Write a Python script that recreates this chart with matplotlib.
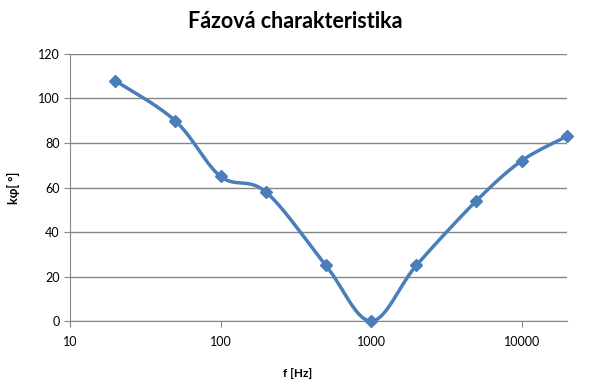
import numpy as np
import matplotlib.pyplot as plt

plt.rcParams['font.family'] = ['Lato', 'DejaVu Sans']

freq = [20, 50, 100, 200, 500, 1000, 2000, 5000, 10000, 20000]
phase = [108, 90, 65, 58, 25, 0, 25, 54, 72, 83]

fig = plt.figure(figsize=(5.94, 3.87), dpi=100)
ax = fig.add_axes([0.1178, 0.1705, 0.8367, 0.69])
ax.set_xscale('log')
ax.set_xlim(10, 20000)
ax.set_ylim(0, 120)

# Excel-like smoothed line: bezier segments in display space (log x, y)
lx = np.log10(freq)
sx = lx * 150.0
sy = np.array(phase) * 2.225
n = len(freq)
cx, cy = [], []
t = np.linspace(0, 1, 40)
for i in range(n - 1):
    p0 = max(i - 1, 0)
    p3 = min(i + 2, n - 1)
    c1x = sx[i] + (sx[i + 1] - sx[p0]) / 6
    c1y = sy[i] + (sy[i + 1] - sy[p0]) / 6
    c2x = sx[i + 1] - (sx[p3] - sx[i]) / 6
    c2y = sy[i + 1] - (sy[p3] - sy[i]) / 6
    bx = (1-t)**3*sx[i] + 3*(1-t)**2*t*c1x + 3*(1-t)*t**2*c2x + t**3*sx[i+1]
    by = (1-t)**3*sy[i] + 3*(1-t)**2*t*c1y + 3*(1-t)*t**2*c2y + t**3*sy[i+1]
    cx.extend(bx)
    cy.extend(by)
cx = 10 ** (np.array(cx) / 150.0)
cy = np.array(cy) / 2.225

ax.plot(cx, cy, color='#4A7EBB', lw=2.5, solid_capstyle='round', zorder=3)
ax.plot(freq, phase, 'D', color='#4A7EBB', ms=6.5, zorder=4, clip_on=False)

ax.set_yticks(range(0, 121, 20))
ax.set_xticks([10, 100, 1000, 10000])
ax.set_xticklabels(['10', '100', '1000', '10000'])
ax.minorticks_off()
ax.yaxis.grid(True, color='#868686', lw=1)
ax.set_axisbelow(True)
for s in ['top', 'right']:
    ax.spines[s].set_visible(False)
for s in ['left', 'bottom']:
    ax.spines[s].set_color('#868686')
ax.tick_params(axis='both', colors='#868686', labelcolor='black', labelsize=9, length=4)
ax.tick_params(axis='x', pad=7)

fig.text(295 / 594, 1 - 22 / 387, 'Fázová charakteristika', fontsize=15.5,
         fontweight='bold', ha='center', va='center')
ax.set_xlabel('f [Hz]', fontsize=8.5, fontweight='bold')
ax.xaxis.set_label_coords((298 - 70) / 497, -(368 - 321) / 267)
ax.set_ylabel('kφ[ °]', fontsize=9, fontweight='bold')
ax.yaxis.set_label_coords(-(70 - 20) / 497, (321 - 188) / 267)

fig.savefig('out.png', dpi=100)
